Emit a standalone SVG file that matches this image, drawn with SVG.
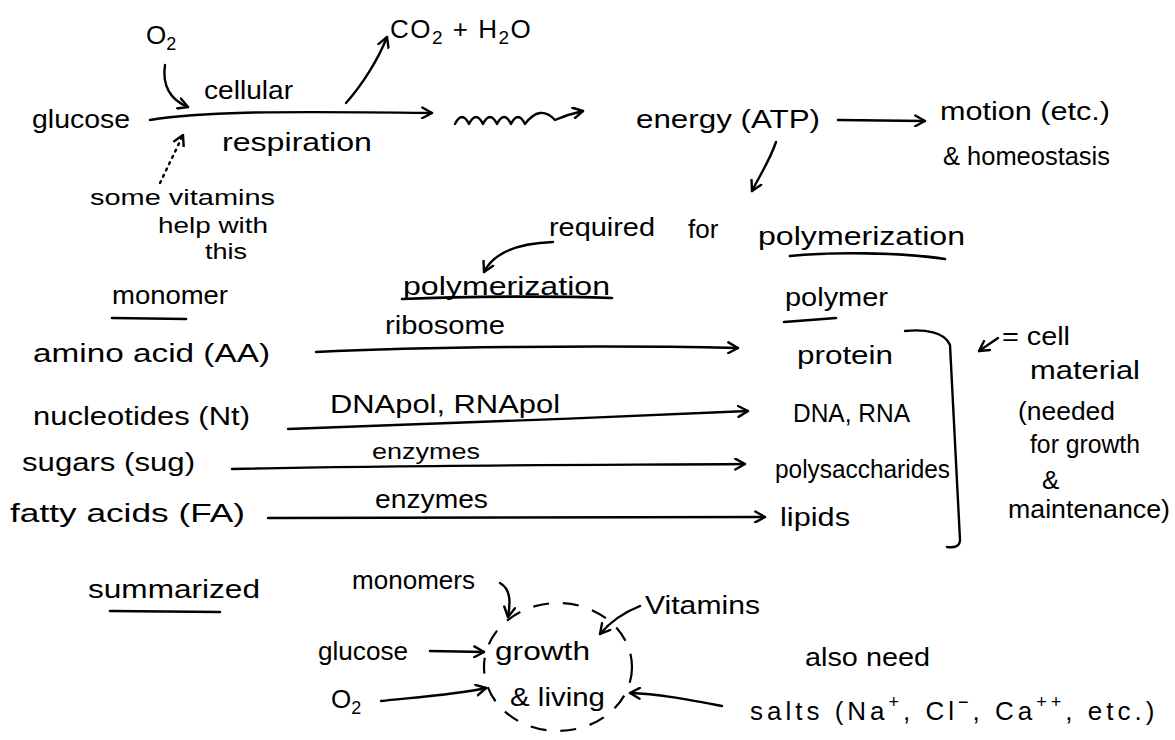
<svg xmlns="http://www.w3.org/2000/svg" width="1175" height="740" viewBox="0 0 1175 740">
<defs>
<marker id="ah" viewBox="0 0 12 12" refX="10" refY="6" markerWidth="13" markerHeight="13" markerUnits="userSpaceOnUse" orient="auto">
<path d="M1,1 L10,6 L1,11" fill="none" stroke="#000" stroke-width="2.2" stroke-linecap="round" stroke-linejoin="round"/>
</marker>
<style>
text{font-family:"Liberation Sans","DejaVu Sans",sans-serif;font-size:26px;fill:#000}
.c{fill:none;stroke:#000;stroke-width:2.4;stroke-linecap:round;stroke-linejoin:round}
.a{marker-end:url(#ah)}
.u{fill:none;stroke:#000;stroke-width:2.6;stroke-linecap:round}
.sm{font-size:22px}
</style>
</defs>
<rect width="1175" height="740" fill="#fff"/>

<g id="connectors">
<path class="c a" d="M150,120 C200,112 260,111 432,113"/>
<path class="c a" d="M165,65 C162,85 170,100 188,107"/>
<path class="c a" d="M346,103 C362,85 378,60 387,37"/>
<path class="c a" d="M160,183 L183,135" stroke-dasharray="2,5"/>
<path class="c a" d="M455,124 q7,-14 14,0 q7,-14 14,0 q7,-14 14,0 q7,-14 14,0 q7,-14 14,0 q15,-20 30,-4 q14,-6 28,-9"/>
<path class="c a" d="M838,120 L925,121"/>
<path class="c a" d="M776,142 C770,160 760,175 752,191"/>
<path class="c a" d="M553,242 C525,243 495,250 484,272"/>
<path class="c a" d="M316,352 C420,347 600,345 738,348"/>
<path class="c a" d="M288,429 C400,425 600,418 748,411"/>
<path class="c a" d="M232,469 C400,465 600,465 745,464"/>
<path class="c a" d="M268,518 C450,517 620,516 765,517"/>
<path class="c a" d="M998,338 L979,351"/>
<path class="c a" d="M500,583 C512,590 510,605 508,617"/>
<path class="c a" d="M640,606 C625,612 610,622 600,634"/>
<path class="c a" d="M430,651 L484,652"/>
<path class="c a" d="M381,701 C420,697 460,694 486,688"/>
<path class="c a" d="M722,706 C690,700 660,694 630,693"/>
</g>

<g id="glucose"><text x="32" y="128" textLength="98" lengthAdjust="spacingAndGlyphs">glucose</text></g>
<g id="o2-top"><text x="146" y="44" font-size="28">O<tspan dy="6" font-size="18">2</tspan></text></g>
<g id="co2-h2o"><text x="390" y="38" font-size="31" letter-spacing="1.5">CO<tspan dy="6" font-size="19">2</tspan><tspan dy="-6"> + H</tspan><tspan dy="6" font-size="19">2</tspan><tspan dy="-6">O</tspan></text></g>
<g id="cellular-respiration">
<text x="204" y="99" textLength="89" lengthAdjust="spacingAndGlyphs">cellular</text>
<text x="222" y="151" textLength="150" lengthAdjust="spacingAndGlyphs">respiration</text>
</g>
<g id="vitamins-note">
<text x="90" y="205" class="sm" textLength="185" lengthAdjust="spacingAndGlyphs">some vitamins</text>
<text x="158" y="233" class="sm" textLength="110" lengthAdjust="spacingAndGlyphs">help with</text>
<text x="205" y="259" class="sm" textLength="42" lengthAdjust="spacingAndGlyphs">this</text>
</g>
<g id="energy"><text x="636" y="128" textLength="184" lengthAdjust="spacingAndGlyphs">energy (ATP)</text></g>
<g id="motion">
<text x="940" y="120" textLength="170" lengthAdjust="spacingAndGlyphs">motion (etc.)</text>
<text x="943" y="165" textLength="167" lengthAdjust="spacingAndGlyphs">&amp; homeostasis</text>
</g>
<g id="required">
<text x="549" y="236" textLength="106" lengthAdjust="spacingAndGlyphs">required</text>
<text x="688" y="238">for</text>
<text x="758" y="245" textLength="207" lengthAdjust="spacingAndGlyphs">polymerization</text>
<path class="u" d="M790,256 C830,252 900,252 945,259"/>
</g>
<g id="monomer-head"><text x="112" y="304" textLength="116" lengthAdjust="spacingAndGlyphs">monomer</text><path class="u" d="M112,318 L186,319"/></g>
<g id="polymerization-head"><text x="403" y="295" textLength="207" lengthAdjust="spacingAndGlyphs">polymerization</text><path class="u" d="M402,299 C470,296 560,296 612,298"/></g>
<g id="polymer-head"><text x="785" y="306" textLength="103" lengthAdjust="spacingAndGlyphs">polymer</text><path class="u" d="M784,322 L836,318"/></g>

<g id="row-aa">
<text x="33" y="362" textLength="237" lengthAdjust="spacingAndGlyphs">amino acid (AA)</text>
<text x="385" y="334" textLength="120" lengthAdjust="spacingAndGlyphs">ribosome</text>
<text x="797" y="364" textLength="96" lengthAdjust="spacingAndGlyphs">protein</text>
</g>
<g id="row-nt">
<text x="33" y="425" textLength="217" lengthAdjust="spacingAndGlyphs">nucleotides (Nt)</text>
<text x="330" y="413" textLength="230" lengthAdjust="spacingAndGlyphs">DNApol, RNApol</text>
<text x="793" y="422" textLength="117" lengthAdjust="spacingAndGlyphs">DNA, RNA</text>
</g>
<g id="row-sug">
<text x="22" y="471" textLength="173" lengthAdjust="spacingAndGlyphs">sugars (sug)</text>
<text x="372" y="459" class="sm" textLength="108" lengthAdjust="spacingAndGlyphs">enzymes</text>
<text x="775" y="478" textLength="175" lengthAdjust="spacingAndGlyphs">polysaccharides</text>
</g>
<g id="row-fa">
<text x="10" y="522" textLength="235" lengthAdjust="spacingAndGlyphs">fatty acids (FA)</text>
<text x="375" y="508" textLength="113" lengthAdjust="spacingAndGlyphs">enzymes</text>
<text x="780" y="526" textLength="70" lengthAdjust="spacingAndGlyphs">lipids</text>
</g>

<g id="bracket"><path class="c" d="M905,331 C925,329 945,332 950,345 L960,540 C960,546 955,548 947,547"/></g>
<g id="cell-material">
<text x="1002" y="345" textLength="68" lengthAdjust="spacingAndGlyphs">= cell</text>
<text x="1030" y="379" textLength="110" lengthAdjust="spacingAndGlyphs">material</text>
<text x="1018" y="420" textLength="97" lengthAdjust="spacingAndGlyphs">(needed</text>
<text x="1030" y="453" textLength="110" lengthAdjust="spacingAndGlyphs">for growth</text>
<text x="1042" y="489" font-size="16">&amp;</text>
<text x="1008" y="518" textLength="162" lengthAdjust="spacingAndGlyphs">maintenance)</text>
</g>

<g id="summarized"><text x="88" y="598" textLength="172" lengthAdjust="spacingAndGlyphs">summarized</text><path class="u" d="M110,611 L220,612"/></g>
<g id="monomers"><text x="352" y="589" textLength="123" lengthAdjust="spacingAndGlyphs">monomers</text></g>
<g id="vitamins"><text x="645" y="614" textLength="115" lengthAdjust="spacingAndGlyphs">Vitamins</text></g>
<g id="growth-living">
<ellipse cx="558" cy="667" rx="74" ry="64" fill="none" stroke="#000" stroke-width="2.2" stroke-dasharray="16,14"/>
<text x="495" y="660" textLength="95" lengthAdjust="spacingAndGlyphs">growth</text>
<text x="510" y="706" textLength="95" lengthAdjust="spacingAndGlyphs">&amp; living</text>
</g>
<g id="glucose-bottom"><text x="318" y="660" textLength="90" lengthAdjust="spacingAndGlyphs">glucose</text></g>
<g id="o2-bottom"><text x="331" y="708" font-size="27">O<tspan dy="6" font-size="18">2</tspan></text></g>
<g id="also-need"><text x="805" y="666" textLength="125" lengthAdjust="spacingAndGlyphs">also need</text></g>
<g id="salts"><text x="750" y="720" font-size="29" letter-spacing="4">salts (Na<tspan dy="-12" font-size="18">+</tspan><tspan dy="12">, Cl</tspan><tspan dy="-12" font-size="18">−</tspan><tspan dy="12">, Ca</tspan><tspan dy="-12" font-size="18">++</tspan><tspan dy="12">, etc.)</tspan></text></g>
</svg>
